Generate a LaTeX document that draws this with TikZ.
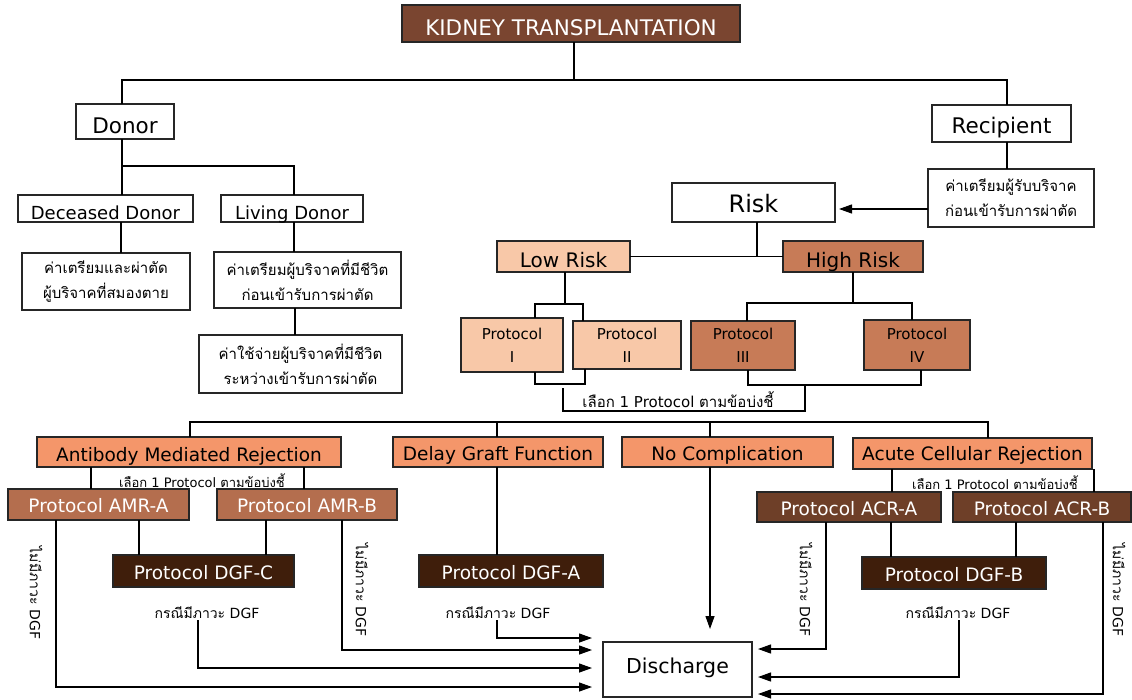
\documentclass[tikz,border=0pt]{standalone}
\usepackage{fontspec}
\setmainfont{DejaVu Sans}
\newfontfamily\thaifont[Script=Thai]{Loma}
\newcommand\thaif[1]{{\thaifont #1}}
\usetikzlibrary{arrows.meta}
\definecolor{cTitle}{HTML}{7A4530}
\definecolor{cLow}{HTML}{F8C8A8}
\definecolor{cHigh}{HTML}{C77B57}
\definecolor{cRow}{HTML}{F4966A}
\definecolor{cAmr}{HTML}{B46E4E}
\definecolor{cAcr}{HTML}{6E3F28}
\definecolor{cDgf}{HTML}{3F1E0B}
\newcommand\bx[7]{\node[#1, minimum width={(#5-#3)*1pt}, minimum height={(#6-#4)*1pt}] (#2) at ({(#3+#5)/2},{(#4+#6)/2}) {#7};}
\begin{document}
\begin{tikzpicture}[x=1pt,y=-1pt,
  base/.style={draw=black!85, line width=1.1pt, inner sep=1pt, outer sep=0pt, align=center},
  wbox/.style={base, fill=white},
  tz/.style 2 args={text height=#1, text depth=#2},
  thai/.style={font=\thaifont\fontsize{15}{25}\selectfont},
  prot/.style={font=\fontsize{15}{23}\selectfont},
  rowf/.style={font=\fontsize{18.5}{22}\selectfont, tz={17.5pt}{0pt}},
  protf/.style={font=\fontsize{18.5}{22}\selectfont, text=white, tz={16.5pt}{0pt}},
  small/.style={font=\fontsize{13}{15}\selectfont, inner sep=0pt},
  lbl/.style={font=\fontsize{14}{16}\selectfont, inner sep=1pt},
  conn/.style={line width=1.2pt, draw=black},
  arr/.style={conn, -{Triangle[length=13pt,width=9pt]}}
]
\useasboundingbox (0,0) rectangle (1132,699);
% boxes
\bx{base, fill=cTitle, text=white, font=\fontsize{21.5}{25}\selectfont, tz={24.7pt}{0pt}}{title}{402}{5}{740}{42}{KIDNEY TRANSPLANTATION}
\bx{wbox, font=\fontsize{21.5}{25}\selectfont, tz={23.7pt}{0pt}}{donor}{76}{104}{174}{139}{Donor}
\bx{wbox, font=\fontsize{21.5}{25}\selectfont, tz={19.7pt}{0pt}}{recipient}{932}{105}{1071}{142}{Recipient}
\bx{wbox, font=\fontsize{18}{21}\selectfont, tz={21.1pt}{0pt}}{deceased}{18}{195}{193}{222}{Deceased Donor}
\bx{wbox, font=\fontsize{18}{21}\selectfont, tz={21.1pt}{0pt}}{living}{221}{195}{363}{222}{Living Donor}
\bx{wbox, thai}{decsub}{22}{253}{190}{310}{ค่าเตรียมและผ่าตัด\\ผู้บริจาคที่สมองตาย}
\bx{wbox, thai}{livsubA}{214}{252}{401}{308}{ค่าเตรียมผู้บริจาคที่มีชีวิต\\ก่อนเข้ารับการผ่าตัด}
\bx{wbox, thai}{livsubB}{199}{335}{402}{393}{ค่าใช้จ่ายผู้บริจาคที่มีชีวิต\\ระหว่างเข้ารับการผ่าตัด}
\bx{wbox, thai}{recsub}{928}{169}{1094}{227}{ค่าเตรียมผู้รับบริจาค\\ก่อนเข้ารับการผ่าตัด}
\bx{wbox, font=\fontsize{24}{28}\selectfont, tz={20.5pt}{0pt}}{risk}{672}{183}{835}{222}{Risk}
\bx{base, fill=cLow, font=\fontsize{20}{24}\selectfont, tz={21.6pt}{0pt}}{low}{497}{241}{630}{272}{Low Risk}
\bx{base, fill=cHigh, font=\fontsize{20}{24}\selectfont, tz={21.6pt}{0pt}}{high}{783}{241}{923}{272}{High Risk}
\bx{base, fill=cLow, prot}{pI}{461}{318}{563}{372}{Protocol\\I}
\bx{base, fill=cLow, prot}{pII}{573}{321}{681}{369}{Protocol\\II}
\bx{base, fill=cHigh, prot}{pIII}{691}{321}{795}{370}{Protocol\\III}
\bx{base, fill=cHigh, prot}{pIV}{864}{320}{970}{370}{Protocol\\IV}
\bx{base, fill=cRow, rowf, tz={19.5pt}{0pt}}{amr}{37}{437}{341}{467}{Antibody Mediated Rejection}
\bx{base, fill=cRow, rowf}{dgf}{393}{437}{603}{467}{Delay Graft Function}
\bx{base, fill=cRow, rowf}{nocomp}{622}{437}{833}{467}{No Complication}
\bx{base, fill=cRow, rowf, tz={13.5pt}{0pt}}{acr}{853}{438}{1092}{469}{Acute Cellular Rejection}
\bx{base, fill=cAmr, protf}{amrA}{8}{489}{189}{520}{Protocol AMR-A}
\bx{base, fill=cAmr, protf}{amrB}{217}{489}{397}{520}{Protocol AMR-B}
\bx{base, fill=cDgf, protf}{dgfC}{113}{555}{294}{587}{Protocol DGF-C}
\bx{base, fill=cDgf, protf}{dgfA}{419}{555}{603}{587}{Protocol DGF-A}
\bx{base, fill=cAcr, protf}{acrA}{757}{492}{941}{522}{Protocol ACR-A}
\bx{base, fill=cAcr, protf}{acrB}{953}{492}{1131}{522}{Protocol ACR-B}
\bx{base, fill=cDgf, protf}{dgfB}{862}{557}{1046}{589}{Protocol DGF-B}
\bx{wbox, font=\fontsize{20.5}{24}\selectfont, tz={14.9pt}{6pt}}{discharge}{603}{642}{752}{697}{Discharge}
% text labels
\node[lbl, font=\fontsize{15}{17}\selectfont] (selmid) at (678,400) {\thaif{เลือก} 1 Protocol \thaif{ตามข้อบ่งชี้}};
\node[small] (selamr) at (202,481) {\thaif{เลือก} 1 Protocol \thaif{ตามข้อบ่งชี้}};
\node[small] (selacr) at (995,483) {\thaif{เลือก} 1 Protocol \thaif{ตามข้อบ่งชี้}};
\node[lbl] (caseC) at (207,613) {\thaif{กรณีมีภาวะ} DGF};
\node[lbl] (caseA) at (498,613) {\thaif{กรณีมีภาวะ} DGF};
\node[lbl] (caseB) at (958,613) {\thaif{กรณีมีภาวะ} DGF};
\node[lbl, rotate=-90] (noA) at (36,593) {\thaif{ไม่มีภาวะ} DGF};
\node[lbl, rotate=-90] (noB) at (362,590) {\thaif{ไม่มีภาวะ} DGF};
\node[lbl, rotate=-90] (noC) at (806,590) {\thaif{ไม่มีภาวะ} DGF};
\node[lbl, rotate=-90] (noD) at (1119,590) {\thaif{ไม่มีภาวะ} DGF};
% bracket coordinates
\coordinate (brL) at (563,388);
\coordinate (brR) at (805,386);
% top level
\draw[conn] (title.south -| 574,0) -- (574,80);
\draw[conn] (donor.north -| 122,0) -- (122,80) -| (recipient.north -| 1007,0);
% donor side
\draw[conn] (donor.south -| 122,0) -- (122,166) -| (living.north -| 294,0);
\draw[conn] (122,166) -- (deceased.north -| 122,0);
\draw[conn] (deceased.south -| 121,0) -- (decsub.north -| 121,0);
\draw[conn] (living.south -| 294,0) -- (livsubA.north -| 294,0);
\draw[conn] (livsubA.south -| 295,0) -- (livsubB.north -| 295,0);
% recipient side
\draw[conn] (recipient.south -| 1007,0) -- (recsub.north -| 1007,0);
\draw[arr, shorten >=4pt] (recsub.west |- 0,209) -- (risk.east |- 0,209);
\draw[conn] (risk.south -| 757,0) -- (757,257);
\draw[conn] (low.east) -- (high.west);
\draw[conn] (low.south -| 565,0) -- (565,304);
\draw[conn] (pI.north -| 535,0) |- (583,304) -- (pII.north -| 583,0);
\draw[conn] (high.south -| 853,0) -- (853,303);
\draw[conn] (pIII.north -| 747,0) |- (912,303) -- (pIV.north -| 912,0);
\draw[conn] (pI.south -| 535,0) |- (585,384) -- (pII.south -| 585,0);
\draw[conn] (pIII.south -| 748,0) |- (921,385) -- (pIV.south -| 921,0);
\draw[conn] (brL) -- (563,411) -- (805,411) -- (brR);
% distribution
\draw[conn] (amr.north -| 190,0) -- (190,422) -| (acr.north -| 988,0);
\draw[conn] (dgf.north -| 497,0) -- (497,422);
\draw[conn] (nocomp.north -| 710,0) -- (710,422);
% AMR
\draw[conn] (amr.south -| 91,0) -- (amrA.north -| 91,0);
\draw[conn] (amr.south -| 304,0) -- (amrB.north -| 304,0);
\draw[conn] (amrA.south -| 139,0) -- (dgfC.north -| 139,0);
\draw[conn] (amrB.south -| 266,0) -- (dgfC.north -| 266,0);
% DGF
\draw[conn] (dgf.south -| 497,0) -- (dgfA.north -| 497,0);
% ACR
\draw[conn] (acr.south -| 892,0) -- (acrA.north -| 892,0);
\draw[conn] (acr.south -| 1094,0) -- (acrB.north -| 1094,0);
\draw[conn] (acrA.south -| 891,0) -- (dgfB.north -| 891,0);
\draw[conn] (acrB.south -| 1016,0) -- (dgfB.north -| 1016,0);
% to discharge
\draw[arr, shorten >=11pt] (amrA.south -| 56,0) |- (discharge.west |- 0,687);
\draw[arr, shorten >=11pt] (amrB.south -| 342,0) |- (discharge.west |- 0,650);
\draw[arr, shorten >=11pt] (caseC.south -| 198,0) |- (discharge.west |- 0,668);
\draw[arr, shorten >=11pt] (caseA.south -| 497,0) |- (discharge.west |- 0,638);
\draw[arr, shorten >=13pt] (nocomp.south -| 710,0) -- (discharge.north -| 710,0);
\draw[arr, shorten >=6pt] (acrA.south -| 826,0) |- (discharge.east |- 0,649);
\draw[arr, shorten >=6pt] (caseB.south -| 959,0) |- (discharge.east |- 0,677);
\draw[arr, shorten >=6pt] (acrB.south -| 1103,0) |- (discharge.east |- 0,694);
\end{tikzpicture}
\end{document}
